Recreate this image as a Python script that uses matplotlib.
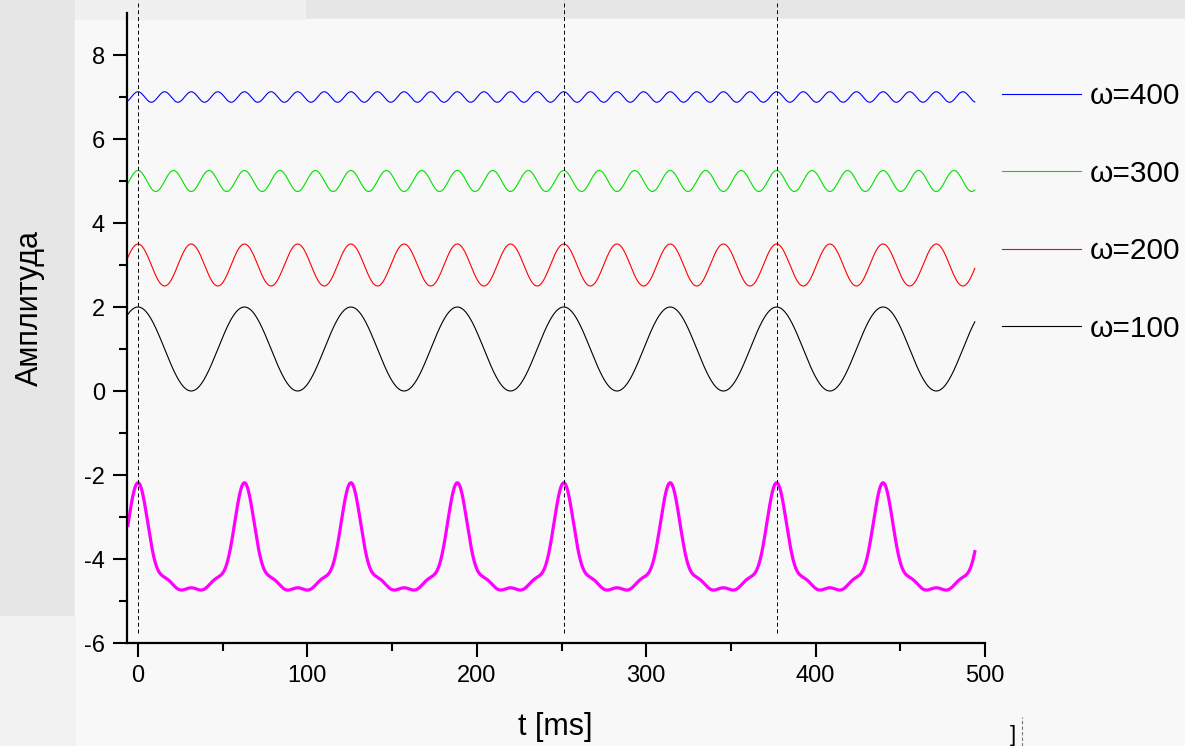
import numpy as np
import matplotlib
matplotlib.use("Agg")
import matplotlib.pyplot as plt
from matplotlib.patches import Rectangle
from matplotlib.lines import Line2D

plt.rcParams["axes.unicode_minus"] = False

# ---- data ----
omegas = [100, 200, 300, 400]            # rad/s (legend labels)
amplitudes = [1.0, 0.5, 0.25, 0.125]      # half peak-to-peak of each trace
offsets = [1.0, 3.0, 5.0, 7.0]            # vertical offset of each trace
colors = ["black", "red", "#00e000", "blue"]
labels = ["ω=100", "ω=200", "ω=300", "ω=400"]
sum_offset = -4.06                        # offset of the magenta sum trace
t_start, t_end = -6.0, 494.0              # ms
marker_times = [0.0, 251.3, 377.0]        # dashed vertical lines (ms)
xticks = [0, 100, 200, 300, 400, 500]
yticks = [-6, -4, -2, 0, 2, 4, 6, 8]

W, H = 1185, 746
fig = plt.figure(figsize=(W / 100, H / 100), dpi=100)
fig.patch.set_facecolor("#e6e6e6")
# light panel behind the plot
fig.add_artist(Rectangle((75 / W, 0), 1 - 75 / W, 1 - 19 / H,
                         transform=fig.transFigure, color="#f8f8f8", zorder=-10))
fig.add_artist(Rectangle((0, 0), 75 / W, 130 / H,
                         transform=fig.transFigure, color="#f2f2f2", zorder=-10))
fig.add_artist(Rectangle((75 / W, 1 - 19 / H), 230 / W, 19 / H,
                         transform=fig.transFigure, color="#f0f0f0", zorder=-10))

ax = fig.add_axes([127 / W, 1 - 643 / H, (985 - 127) / W, (643 - 13) / H])
ax.set_facecolor("none")

t = np.linspace(t_start, t_end, 4000)
total = np.zeros_like(t)
handles = []
for w, a, o, c, lab in zip(omegas, amplitudes, offsets, colors, labels):
    s = a * np.cos(w * t / 1000.0)
    total += s
    h, = ax.plot(t, o + s, color=c, lw=0.8, label=lab)
    handles.append(h)
ax.plot(t, total + sum_offset, color="#ff00ff", lw=2.3)

ax.vlines(marker_times, -5.75, 9.31, colors="black", linestyles=(0, (4, 3)),
          lw=0.7, clip_on=False)

ax.set_xlim(-6.5, 500)
ax.set_ylim(-6, 9)
ax.set_xticks(xticks)
ax.set_yticks(yticks)
ax.set_xticks(np.arange(50, 500, 100), minor=True)
ax.set_yticks(np.arange(-5, 9, 2), minor=True)
for sp in ["top", "right"]:
    ax.spines[sp].set_visible(False)
for sp in ["left", "bottom"]:
    ax.spines[sp].set_linewidth(1.6)

fam = ["Liberation Sans", "DejaVu Sans"]
ax.tick_params(which="major", length=10, width=1.5, labelsize=17, pad=6)
ax.tick_params(which="minor", length=5.5, width=1.5)
for lbl in ax.get_xticklabels() + ax.get_yticklabels():
    lbl.set_family(fam)

fig.text(555 / W, 1 - 727 / H, "t [ms]", ha="center", va="center",
         fontsize=22, family=fam)
fig.text(30 / W, 1 - 308 / H, "Амплитуда", ha="center", va="center",
         rotation=90, fontsize=22, family=fam)

leg = ax.legend(handles[::-1], labels[::-1], loc="upper left",
                bbox_to_anchor=(1002 / W, 1 - 82 / H),
                bbox_transform=fig.transFigure, frameon=False,
                prop={"family": fam, "size": 21.5}, handlelength=2.65,
                handletextpad=0.3, labelspacing=1.66, borderpad=0,
                borderaxespad=0)

# small artifact at bottom right
fig.text(1013 / W, 1 - 735 / H, "]", fontsize=16, ha="center", va="center",
         family=fam)
fig.add_artist(Line2D([1022 / W, 1022 / W], [0, 29 / H],
                      transform=fig.transFigure, color="#777777", lw=0.8,
                      linestyle=(0, (3, 2))))

fig.savefig("out.png", dpi=100, facecolor=fig.get_facecolor())
